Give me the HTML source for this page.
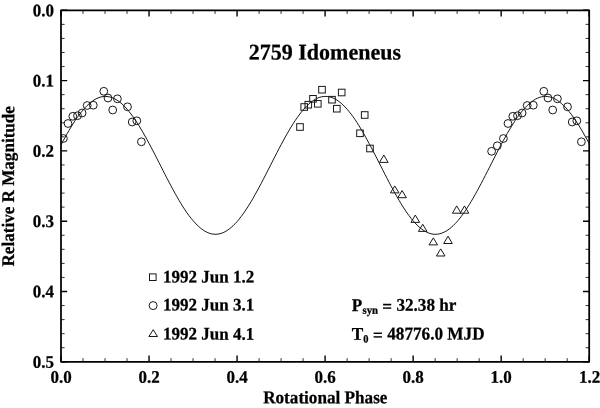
<!DOCTYPE html>
<html><head><meta charset="utf-8"><title>2759 Idomeneus</title>
<style>
html,body{margin:0;padding:0;background:#fff;}
svg{display:block;}
text{font-family:"Liberation Serif","Times New Roman",serif;font-weight:bold;font-size:17px;text-rendering:geometricPrecision;fill:#000;stroke:#000;stroke-width:0.25px;}
.m circle,.m rect,.m path{fill:none;stroke:#181818;stroke-width:1;}
</style></head><body>
<svg width="600" height="408" viewBox="0 0 600 408">
<rect width="600" height="408" fill="#fff"/>
<defs><clipPath id="pc"><rect x="61.0" y="10.3" width="528.2" height="351.5"/></clipPath></defs>
<g class="m" clip-path="url(#pc)">
<path d="M61.0,144.9 L63.0,141.1 L65.0,137.5 L67.0,133.9 L69.0,130.5 L71.0,127.1 L73.0,123.9 L75.0,120.8 L77.0,117.9 L79.0,115.1 L81.0,112.5 L83.0,110.1 L85.0,107.8 L87.0,105.7 L89.0,103.8 L91.0,102.2 L93.0,100.7 L95.0,99.4 L97.0,98.4 L99.0,97.6 L101.0,96.9 L103.0,96.6 L105.0,96.4 L107.0,96.5 L109.0,96.8 L111.0,97.3 L113.0,98.0 L115.0,99.0 L117.0,100.1 L119.0,101.5 L121.0,103.1 L123.0,104.9 L125.0,106.9 L127.0,109.1 L129.0,111.5 L131.0,114.0 L133.0,116.7 L135.0,119.6 L137.0,122.6 L139.0,125.8 L141.0,129.1 L143.0,132.5 L145.0,136.0 L147.0,139.6 L149.0,143.3 L151.0,147.1 L153.0,150.9 L155.0,154.8 L157.0,158.7 L159.0,162.6 L161.0,166.5 L163.0,170.5 L165.0,174.4 L167.0,178.3 L169.0,182.1 L171.0,185.9 L173.0,189.6 L175.0,193.3 L177.0,196.8 L179.0,200.3 L181.0,203.6 L183.0,206.9 L185.0,209.9 L187.0,212.9 L189.0,215.6 L191.0,218.2 L193.1,220.7 L195.1,222.9 L197.1,225.0 L199.1,226.9 L201.1,228.6 L203.1,230.0 L205.1,231.3 L207.1,232.3 L209.1,233.2 L211.1,233.8 L213.1,234.1 L215.1,234.3 L217.1,234.2 L219.1,233.9 L221.1,233.4 L223.1,232.7 L225.1,231.7 L227.1,230.5 L229.1,229.1 L231.1,227.5 L233.1,225.7 L235.1,223.7 L237.1,221.6 L239.1,219.2 L241.1,216.6 L243.1,213.9 L245.1,211.0 L247.1,208.0 L249.1,204.9 L251.1,201.6 L253.1,198.2 L255.1,194.6 L257.1,191.0 L259.1,187.3 L261.1,183.6 L263.1,179.7 L265.1,175.9 L267.1,171.9 L269.1,168.0 L271.1,164.1 L273.1,160.1 L275.1,156.2 L277.1,152.3 L279.1,148.5 L281.1,144.7 L283.1,141.0 L285.1,137.3 L287.1,133.8 L289.1,130.3 L291.1,127.0 L293.1,123.8 L295.1,120.7 L297.1,117.8 L299.1,115.0 L301.1,112.4 L303.1,110.0 L305.1,107.7 L307.1,105.6 L309.1,103.8 L311.1,102.1 L313.1,100.6 L315.1,99.4 L317.1,98.3 L319.1,97.5 L321.1,96.9 L323.1,96.6 L325.1,96.4 L327.1,96.5 L329.1,96.8 L331.1,97.3 L333.1,98.0 L335.1,99.0 L337.1,100.2 L339.1,101.6 L341.1,103.2 L343.1,105.0 L345.1,107.0 L347.1,109.2 L349.1,111.6 L351.1,114.1 L353.1,116.8 L355.1,119.7 L357.1,122.7 L359.1,125.9 L361.1,129.2 L363.1,132.6 L365.1,136.1 L367.1,139.8 L369.1,143.5 L371.1,147.2 L373.1,151.1 L375.1,154.9 L377.1,158.8 L379.1,162.8 L381.1,166.7 L383.1,170.6 L385.1,174.6 L387.1,178.4 L389.1,182.3 L391.1,186.1 L393.1,189.8 L395.1,193.4 L397.1,197.0 L399.1,200.4 L401.1,203.8 L403.1,207.0 L405.1,210.1 L407.1,213.0 L409.1,215.7 L411.1,218.4 L413.1,220.8 L415.1,223.0 L417.1,225.1 L419.1,227.0 L421.1,228.6 L423.1,230.1 L425.1,231.3 L427.1,232.4 L429.1,233.2 L431.1,233.8 L433.1,234.2 L435.1,234.3 L437.1,234.2 L439.1,233.9 L441.1,233.4 L443.1,232.6 L445.1,231.7 L447.1,230.5 L449.1,229.1 L451.1,227.5 L453.1,225.7 L455.1,223.7 L457.2,221.5 L459.2,219.1 L461.2,216.5 L463.2,213.8 L465.2,210.9 L467.2,207.9 L469.2,204.7 L471.2,201.4 L473.2,198.0 L475.2,194.5 L477.2,190.9 L479.2,187.2 L481.2,183.4 L483.2,179.6 L485.2,175.7 L487.2,171.8 L489.2,167.9 L491.2,163.9 L493.2,160.0 L495.2,156.1 L497.2,152.2 L499.2,148.3 L501.2,144.5 L503.2,140.8 L505.2,137.2 L507.2,133.6 L509.2,130.2 L511.2,126.9 L513.2,123.7 L515.2,120.6 L517.2,117.7 L519.2,114.9 L521.2,112.3 L523.2,109.9 L525.2,107.6 L527.2,105.6 L529.2,103.7 L531.2,102.0 L533.2,100.6 L535.2,99.3 L537.2,98.3 L539.2,97.5 L541.2,96.9 L543.2,96.5 L545.2,96.4 L547.2,96.5 L549.2,96.8 L551.2,97.3 L553.2,98.1 L555.2,99.1 L557.2,100.2 L559.2,101.7 L561.2,103.3 L563.2,105.1 L565.2,107.1 L567.2,109.3 L569.2,111.7 L571.2,114.2 L573.2,117.0 L575.2,119.8 L577.2,122.9 L579.2,126.0 L581.2,129.3 L583.2,132.8 L585.2,136.3 L587.2,139.9 L589.2,143.6" fill="none" stroke="#181818" stroke-width="1.15"/>
<circle cx="63.4" cy="138.5" r="3.9"/>
<circle cx="68.0" cy="123.5" r="3.9"/>
<circle cx="72.8" cy="116.3" r="3.9"/>
<circle cx="77.5" cy="115.7" r="3.9"/>
<circle cx="82.1" cy="113.0" r="3.9"/>
<circle cx="87.2" cy="105.5" r="3.9"/>
<circle cx="93.3" cy="105.2" r="3.9"/>
<circle cx="103.8" cy="91.3" r="3.9"/>
<circle cx="108.0" cy="98.0" r="3.9"/>
<circle cx="112.7" cy="110.0" r="3.9"/>
<circle cx="117.4" cy="98.8" r="3.9"/>
<circle cx="127.5" cy="106.8" r="3.9"/>
<circle cx="132.2" cy="122.0" r="3.9"/>
<circle cx="136.8" cy="120.8" r="3.9"/>
<circle cx="141.4" cy="141.8" r="3.9"/>
<circle cx="491.6" cy="151.3" r="3.9"/>
<circle cx="497.3" cy="145.8" r="3.9"/>
<circle cx="503.4" cy="138.5" r="3.9"/>
<circle cx="508.0" cy="123.5" r="3.9"/>
<circle cx="512.8" cy="116.3" r="3.9"/>
<circle cx="517.5" cy="115.7" r="3.9"/>
<circle cx="522.1" cy="113.0" r="3.9"/>
<circle cx="527.2" cy="105.5" r="3.9"/>
<circle cx="533.3" cy="105.2" r="3.9"/>
<circle cx="543.8" cy="91.3" r="3.9"/>
<circle cx="548.0" cy="98.0" r="3.9"/>
<circle cx="552.7" cy="110.0" r="3.9"/>
<circle cx="557.4" cy="98.8" r="3.9"/>
<circle cx="567.5" cy="106.8" r="3.9"/>
<circle cx="572.2" cy="122.0" r="3.9"/>
<circle cx="576.8" cy="120.8" r="3.9"/>
<circle cx="581.4" cy="141.8" r="3.9"/>
<rect x="296.7" y="123.7" width="6.6" height="6.6"/>
<rect x="300.9" y="103.7" width="6.6" height="6.6"/>
<rect x="305.0" y="101.4" width="6.6" height="6.6"/>
<rect x="309.7" y="95.5" width="6.6" height="6.6"/>
<rect x="314.5" y="100.5" width="6.6" height="6.6"/>
<rect x="318.7" y="86.4" width="6.6" height="6.6"/>
<rect x="328.7" y="96.4" width="6.6" height="6.6"/>
<rect x="333.5" y="105.4" width="6.6" height="6.6"/>
<rect x="338.4" y="89.2" width="6.6" height="6.6"/>
<rect x="361.4" y="111.7" width="6.6" height="6.6"/>
<rect x="356.7" y="130.0" width="6.6" height="6.6"/>
<rect x="366.7" y="145.2" width="6.6" height="6.6"/>
<path d="M383.8,155.0 L388.1,162.4 L379.5,162.4 Z"/>
<path d="M394.7,185.9 L399.0,192.9 L390.4,192.9 Z"/>
<path d="M402.1,190.5 L406.4,197.7 L397.8,197.7 Z"/>
<path d="M415.3,215.0 L419.6,222.4 L411.0,222.4 Z"/>
<path d="M422.7,224.2 L427.0,231.4 L418.4,231.4 Z"/>
<path d="M433.3,237.9 L437.6,244.9 L429.0,244.9 Z"/>
<path d="M440.7,248.9 L445.0,256.0 L436.4,256.0 Z"/>
<path d="M448.0,236.2 L452.3,243.5 L443.7,243.5 Z"/>
<path d="M456.7,205.9 L461.0,213.2 L452.4,213.2 Z"/>
<path d="M464.5,205.9 L468.8,213.2 L460.2,213.2 Z"/>
<rect x="149.5" y="273.9" width="6.6" height="6.6"/>
<circle cx="153.1" cy="305.6" r="4"/>
<path d="M153.2,329.7 L157.5,336.5 L148.9,336.5 Z"/>
</g>
<path d="M61.00,361.80 v-6.2 M61.00,10.30 v6.2 M149.03,361.80 v-6.2 M149.03,10.30 v6.2 M237.07,361.80 v-6.2 M237.07,10.30 v6.2 M325.10,361.80 v-6.2 M325.10,10.30 v6.2 M413.13,361.80 v-6.2 M413.13,10.30 v6.2 M501.17,361.80 v-6.2 M501.17,10.30 v6.2 M589.20,361.80 v-6.2 M589.20,10.30 v6.2 M61.00,10.30 h6.2 M589.20,10.30 h-6.2 M61.00,80.60 h6.2 M589.20,80.60 h-6.2 M61.00,150.90 h6.2 M589.20,150.90 h-6.2 M61.00,221.20 h6.2 M589.20,221.20 h-6.2 M61.00,291.50 h6.2 M589.20,291.50 h-6.2 M61.00,361.80 h6.2 M589.20,361.80 h-6.2" stroke="#000" stroke-width="1.4" fill="none"/>
<path d="M83.01,361.80 v-3.6 M83.01,10.30 v3.6 M105.02,361.80 v-3.6 M105.02,10.30 v3.6 M127.03,361.80 v-3.6 M127.03,10.30 v3.6 M171.04,361.80 v-3.6 M171.04,10.30 v3.6 M193.05,361.80 v-3.6 M193.05,10.30 v3.6 M215.06,361.80 v-3.6 M215.06,10.30 v3.6 M259.08,361.80 v-3.6 M259.08,10.30 v3.6 M281.08,361.80 v-3.6 M281.08,10.30 v3.6 M303.09,361.80 v-3.6 M303.09,10.30 v3.6 M347.11,361.80 v-3.6 M347.11,10.30 v3.6 M369.12,361.80 v-3.6 M369.12,10.30 v3.6 M391.13,361.80 v-3.6 M391.13,10.30 v3.6 M435.14,361.80 v-3.6 M435.14,10.30 v3.6 M457.15,361.80 v-3.6 M457.15,10.30 v3.6 M479.16,361.80 v-3.6 M479.16,10.30 v3.6 M523.18,361.80 v-3.6 M523.18,10.30 v3.6 M545.18,361.80 v-3.6 M545.18,10.30 v3.6 M567.19,361.80 v-3.6 M567.19,10.30 v3.6 M61.00,24.36 h3.6 M589.20,24.36 h-3.6 M61.00,38.42 h3.6 M589.20,38.42 h-3.6 M61.00,52.48 h3.6 M589.20,52.48 h-3.6 M61.00,66.54 h3.6 M589.20,66.54 h-3.6 M61.00,94.66 h3.6 M589.20,94.66 h-3.6 M61.00,108.72 h3.6 M589.20,108.72 h-3.6 M61.00,122.78 h3.6 M589.20,122.78 h-3.6 M61.00,136.84 h3.6 M589.20,136.84 h-3.6 M61.00,164.96 h3.6 M589.20,164.96 h-3.6 M61.00,179.02 h3.6 M589.20,179.02 h-3.6 M61.00,193.08 h3.6 M589.20,193.08 h-3.6 M61.00,207.14 h3.6 M589.20,207.14 h-3.6 M61.00,235.26 h3.6 M589.20,235.26 h-3.6 M61.00,249.32 h3.6 M589.20,249.32 h-3.6 M61.00,263.38 h3.6 M589.20,263.38 h-3.6 M61.00,277.44 h3.6 M589.20,277.44 h-3.6 M61.00,305.56 h3.6 M589.20,305.56 h-3.6 M61.00,319.62 h3.6 M589.20,319.62 h-3.6 M61.00,333.68 h3.6 M589.20,333.68 h-3.6 M61.00,347.74 h3.6 M589.20,347.74 h-3.6" stroke="#1a1a1a" stroke-width="0.9" fill="none"/>
<rect x="61.0" y="10.3" width="528.2" height="351.5" fill="none" stroke="#000" stroke-width="1.75" stroke-linejoin="round"/>
<text transform="translate(61.00,382.75) rotate(0.03) scale(1,1.04)" text-anchor="middle" style="font-size:17px">0.0</text>
<text transform="translate(149.03,382.75) rotate(0.03) scale(1,1.04)" text-anchor="middle" style="font-size:17px">0.2</text>
<text transform="translate(237.07,382.75) rotate(0.03) scale(1,1.04)" text-anchor="middle" style="font-size:17px">0.4</text>
<text transform="translate(325.10,382.75) rotate(0.03) scale(1,1.04)" text-anchor="middle" style="font-size:17px">0.6</text>
<text transform="translate(413.13,382.75) rotate(0.03) scale(1,1.04)" text-anchor="middle" style="font-size:17px">0.8</text>
<text transform="translate(501.17,382.75) rotate(0.03) scale(1,1.04)" text-anchor="middle" style="font-size:17px">1.0</text>
<text transform="translate(589.70,382.75) rotate(0.03) scale(1,1.04)" text-anchor="middle" style="font-size:17px">1.2</text>
<text transform="translate(54.00,16.15) rotate(0.03) scale(1,1.04)" text-anchor="end" style="font-size:17px">0.0</text>
<text transform="translate(54.00,86.45) rotate(0.03) scale(1,1.04)" text-anchor="end" style="font-size:17px">0.1</text>
<text transform="translate(54.00,156.75) rotate(0.03) scale(1,1.04)" text-anchor="end" style="font-size:17px">0.2</text>
<text transform="translate(54.00,227.05) rotate(0.03) scale(1,1.04)" text-anchor="end" style="font-size:17px">0.3</text>
<text transform="translate(54.00,297.35) rotate(0.03) scale(1,1.04)" text-anchor="end" style="font-size:17px">0.4</text>
<text transform="translate(54.00,367.65) rotate(0.03) scale(1,1.04)" text-anchor="end" style="font-size:17px">0.5</text>
<text transform="translate(324.90,59.50) rotate(0.03) scale(1,1.02)" text-anchor="middle" style="font-size:22.0px">2759 Idomeneus</text>
<text transform="translate(163.00,282.50) rotate(0.03) scale(1,1.04)" text-anchor="start" style="font-size:17px">1992 Jun 1.2</text>
<text transform="translate(163.00,310.50) rotate(0.03) scale(1,1.04)" text-anchor="start" style="font-size:17px">1992 Jun 3.1</text>
<text transform="translate(163.00,339.60) rotate(0.03) scale(1,1.04)" text-anchor="start" style="font-size:17px">1992 Jun 4.1</text>
<text transform="translate(351.80,311.10) rotate(0.03) scale(1,1.04)" text-anchor="start" style="font-size:17.15px">P<tspan dy="2.6" dx="0.2" style="font-size:10.8px">syn</tspan><tspan dy="-1.5"> = </tspan><tspan dy="-1.4">32.38 hr</tspan></text>
<text transform="translate(351.80,339.80) rotate(0.03) scale(1,1.04)" text-anchor="start" style="font-size:17.2px">T<tspan dy="2.7" dx="0" style="font-size:10.5px">0</tspan><tspan dy="-1.5" dx="0.3"> = </tspan><tspan dy="-1.5">48776.0 MJD</tspan></text>
<text transform="translate(325.30,403.30) rotate(0.03) scale(1,1.04)" text-anchor="middle" style="font-size:17.15px">Rotational Phase</text>
<text transform="translate(14.10,186.30) rotate(-89.97) scale(1,1.04)" text-anchor="middle" style="font-size:17.1px">Relative R Magnitude</text>
</svg>
</body></html>
